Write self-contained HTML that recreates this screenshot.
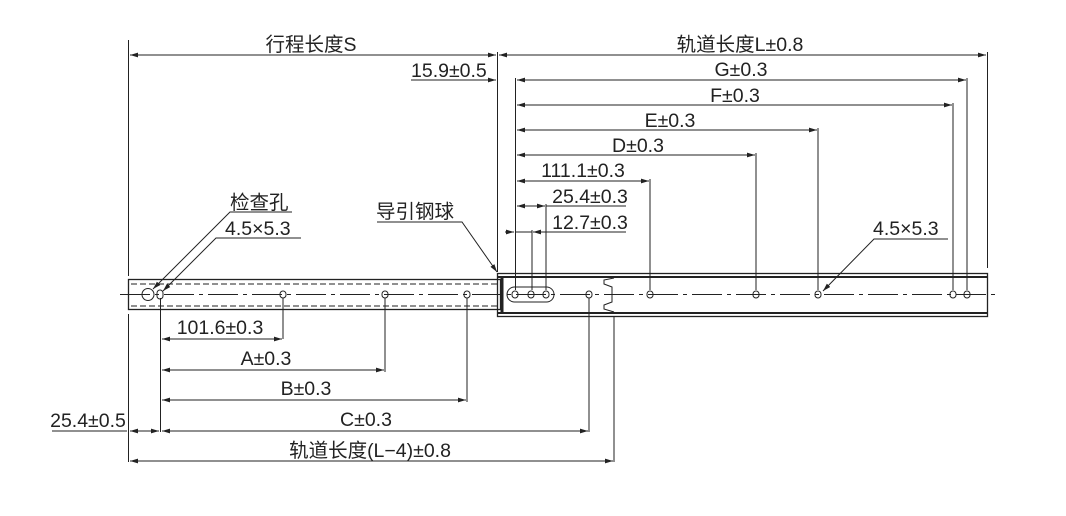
<!DOCTYPE html>
<html><head><meta charset="utf-8"><style>
html,body{margin:0;padding:0;background:#fff;}
svg{display:block;}
text{font-family:"Liberation Sans","Noto Sans CJK SC",sans-serif;font-size:19.5px;fill:#222;}
</style></head><body>
<svg width="1066" height="516" viewBox="0 0 1066 516" xmlns="http://www.w3.org/2000/svg">
<defs>
<marker id="a" viewBox="0 0 10 6" refX="10" refY="3" markerWidth="8" markerHeight="5" orient="auto-start-reverse" markerUnits="userSpaceOnUse"><path d="M0,0L10,3L0,6z" fill="#222"/></marker>
</defs>
<g stroke="#222" stroke-width="1" fill="none">
<line x1="128.5" y1="40" x2="128.5" y2="276"/>
<line x1="128.5" y1="314" x2="128.5" y2="462"/>
<line x1="497.5" y1="52" x2="497.5" y2="272"/>
<line x1="987.5" y1="52" x2="987.5" y2="268"/>
<line x1="515.5" y1="78" x2="515.5" y2="290"/>
<line x1="532" y1="230" x2="532" y2="290"/>
<line x1="546" y1="204" x2="546" y2="290"/>
<line x1="650" y1="179" x2="650" y2="290"/>
<line x1="756" y1="153" x2="756" y2="290"/>
<line x1="818" y1="128" x2="818" y2="290"/>
<line x1="953" y1="103" x2="953" y2="290"/>
<line x1="967" y1="78" x2="967" y2="290"/>
<line x1="160.5" y1="298" x2="160.5" y2="432"/>
<line x1="283" y1="298" x2="283" y2="339"/>
<line x1="385" y1="298" x2="385" y2="372"/>
<line x1="467" y1="298" x2="467" y2="402"/>
<line x1="589" y1="298" x2="589" y2="432"/>
<line x1="614" y1="316" x2="614" y2="462"/>
<line x1="130" y1="55" x2="496" y2="55" marker-start="url(#a)" marker-end="url(#a)"/>
<line x1="499" y1="55" x2="986" y2="55" marker-start="url(#a)" marker-end="url(#a)"/>
<line x1="411" y1="80" x2="496" y2="80" marker-end="url(#a)"/>
<line x1="517" y1="80" x2="966" y2="80" marker-start="url(#a)" marker-end="url(#a)"/>
<line x1="517" y1="105" x2="952" y2="105" marker-start="url(#a)" marker-end="url(#a)"/>
<line x1="517" y1="130" x2="817" y2="130" marker-start="url(#a)" marker-end="url(#a)"/>
<line x1="517" y1="155" x2="755" y2="155" marker-start="url(#a)" marker-end="url(#a)"/>
<line x1="517" y1="181" x2="649" y2="181" marker-start="url(#a)" marker-end="url(#a)"/>
<line x1="517" y1="206" x2="545" y2="206" marker-start="url(#a)" marker-end="url(#a)"/>
<line x1="546" y1="206" x2="626" y2="206"/>
<line x1="505" y1="232" x2="514" y2="232" marker-end="url(#a)"/>
<line x1="533" y1="232" x2="545" y2="232" marker-start="url(#a)"/>
<line x1="545" y1="232" x2="626" y2="232"/>
<line x1="515" y1="232" x2="532" y2="232"/>
<line x1="162" y1="339" x2="282" y2="339" marker-start="url(#a)" marker-end="url(#a)"/>
<line x1="162" y1="370" x2="384" y2="370" marker-start="url(#a)" marker-end="url(#a)"/>
<line x1="162" y1="400" x2="466" y2="400" marker-start="url(#a)" marker-end="url(#a)"/>
<line x1="162" y1="431" x2="588" y2="431" marker-start="url(#a)" marker-end="url(#a)"/>
<line x1="52" y1="431" x2="127" y2="431"/>
<line x1="130" y1="431" x2="159" y2="431" marker-start="url(#a)" marker-end="url(#a)"/>
<line x1="130" y1="461" x2="613" y2="461" marker-start="url(#a)" marker-end="url(#a)"/>
<polyline points="292,212 230,212 153,289" marker-end="url(#a)"/>
<polyline points="301,238 216,238 163,291" marker-end="url(#a)"/>
<polyline points="948,239 874,239 823,291" marker-end="url(#a)"/>
<polyline points="377,222 462,222 497,272" marker-end="url(#a)"/>
<rect x="128.5" y="279.5" width="372" height="30" stroke-width="1.3"/>
<line x1="131" y1="284" x2="498" y2="284" stroke-dasharray="6,3"/>
<line x1="131" y1="306" x2="498" y2="306" stroke-dasharray="6,3"/>
<rect x="497.5" y="273.5" width="490" height="43" stroke-width="1.3"/>
<line x1="497" y1="277" x2="987" y2="277" stroke-width="2"/>
<line x1="497" y1="313" x2="987" y2="313" stroke-width="2"/>
<line x1="502" y1="276" x2="502" y2="314" stroke-width="3"/>
<line x1="503" y1="281" x2="503" y2="308" stroke-dasharray="3,2"/>
<path d="M614,278 L604,280 L604,284 L612,287 L612,302 L604,305 L604,309 L614,312" />
<line x1="120" y1="294.5" x2="1000" y2="294.5" stroke-dasharray="30,5,4,5"/>
<circle cx="148" cy="294.5" r="6"/>
<rect x="157" y="290" width="6" height="9" rx="3"/>
<g>
<rect x="280" y="291" width="6" height="7" rx="3"/>
<rect x="382" y="291" width="6" height="7" rx="3"/>
<rect x="464" y="291" width="6" height="7" rx="3"/>
<rect x="586" y="291" width="6" height="7" rx="3"/>
<rect x="647" y="291" width="6" height="7" rx="3"/>
<rect x="753" y="291" width="6" height="7" rx="3"/>
<rect x="815" y="291" width="6" height="7" rx="3"/>
<rect x="950" y="291" width="6" height="7" rx="3"/>
<rect x="964" y="291" width="6" height="7" rx="3"/>
<rect x="512" y="291" width="6" height="7" rx="3"/>
<rect x="528" y="291" width="6" height="7" rx="3"/>
<rect x="543" y="291" width="6" height="7" rx="3"/>
</g>
<rect x="507" y="287" width="47" height="15" rx="7.5"/>
</g>
<g>
<text x="311" y="51" text-anchor="middle">行程长度S</text>
<text x="740" y="51" text-anchor="middle">轨道长度L±0.8</text>
<text x="411" y="77">15.9±0.5</text>
<text x="741" y="76" text-anchor="middle">G±0.3</text>
<text x="735" y="102" text-anchor="middle">F±0.3</text>
<text x="670" y="127" text-anchor="middle">E±0.3</text>
<text x="638" y="152" text-anchor="middle">D±0.3</text>
<text x="583" y="177" text-anchor="middle">111.1±0.3</text>
<text x="590" y="203" text-anchor="middle">25.4±0.3</text>
<text x="590" y="229" text-anchor="middle">12.7±0.3</text>
<text x="230" y="209">检查孔</text>
<text x="225" y="235">4.5×5.3</text>
<text x="376" y="218">导引钢球</text>
<text x="873" y="235">4.5×5.3</text>
<text x="220" y="334" text-anchor="middle">101.6±0.3</text>
<text x="266" y="365" text-anchor="middle">A±0.3</text>
<text x="306" y="395" text-anchor="middle">B±0.3</text>
<text x="366" y="426" text-anchor="middle">C±0.3</text>
<text x="88" y="427" text-anchor="middle">25.4±0.5</text>
<text x="370" y="457" text-anchor="middle">轨道长度(L−4)±0.8</text>
</g>
</svg>
</body></html>
